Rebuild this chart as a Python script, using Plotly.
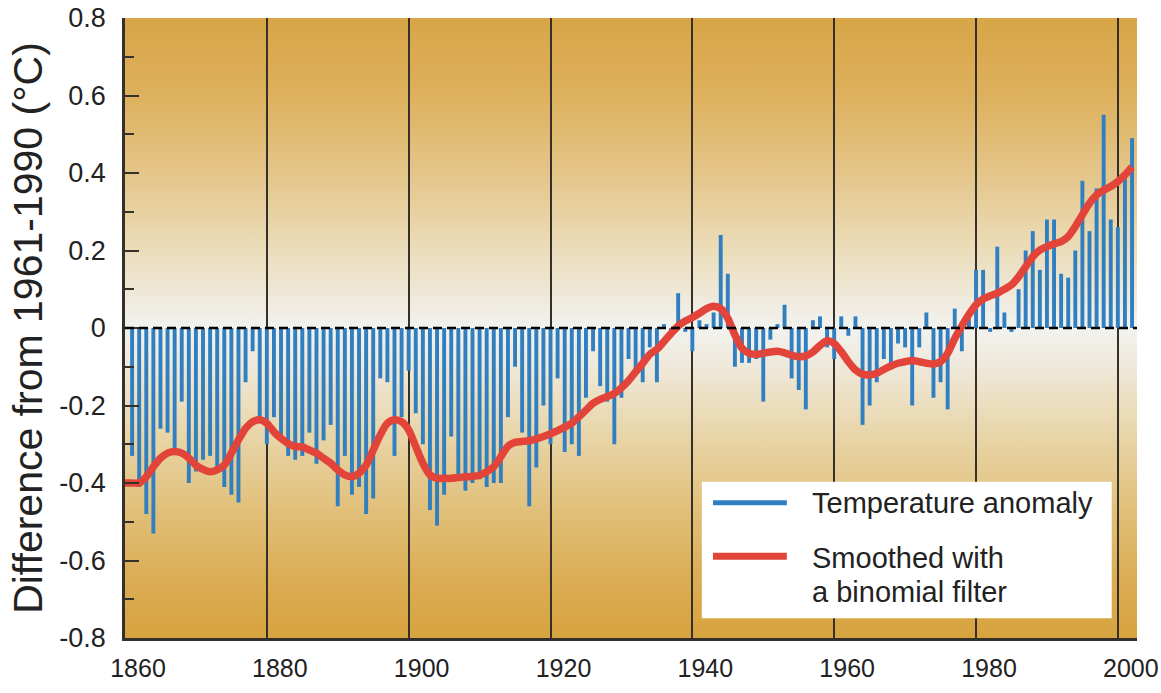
import base64
import plotly.graph_objects as go

# ---------------- data ----------------
years = list(range(1861, 2003))
anomaly = [
    -0.33, -0.41, -0.48, -0.53, -0.26, -0.27, -0.31, -0.19, -0.40, -0.37,   # 1861-1870
    -0.34, -0.33, -0.36, -0.41, -0.43, -0.45, -0.14, -0.06, -0.23, -0.30,   # 1871-1880
    -0.23, -0.29, -0.33, -0.34, -0.33, -0.27, -0.35, -0.29, -0.25, -0.46,   # 1881-1890
    -0.33, -0.43, -0.41, -0.48, -0.44, -0.13, -0.14, -0.33, -0.23, -0.11,   # 1891-1900
    -0.22, -0.30, -0.47, -0.51, -0.43, -0.28, -0.39, -0.42, -0.40, -0.39,   # 1901-1910
    -0.41, -0.40, -0.40, -0.23, -0.10, -0.27, -0.46, -0.36, -0.20, -0.30,   # 1911-1920
    -0.13, -0.32, -0.30, -0.33, -0.18, -0.06, -0.15, -0.19, -0.30, -0.18,   # 1921-1930
    -0.08, -0.11, -0.14, -0.05, -0.14, 0.01, -0.02, 0.09, -0.01, -0.06,     # 1931-1940
    0.02, 0.01, 0.04, 0.24, 0.14, -0.10, -0.09, -0.09, -0.08, -0.19,        # 1941-1950
    -0.03, 0.01, 0.06, -0.13, -0.16, -0.21, 0.02, 0.03, -0.05, -0.08,       # 1951-1960
    0.03, -0.02, 0.03, -0.25, -0.20, -0.14, -0.08, -0.10, -0.04, -0.05,     # 1961-1970
    -0.20, -0.05, 0.04, -0.18, -0.14, -0.21, 0.05, -0.06, 0.03, 0.15,       # 1971-1980
    0.15, -0.01, 0.21, 0.04, -0.01, 0.10, 0.20, 0.25, 0.15, 0.28,           # 1981-1990
    0.28, 0.14, 0.13, 0.20, 0.38, 0.25, 0.36, 0.55, 0.28, 0.26,             # 1991-2000
    0.40, 0.49,                                                             # 2001-2002
]

smooth_years = list(range(1860, 2003))
smoothed = [
    -0.400,                                                                  # 1860
    -0.400, -0.400, -0.384, -0.358, -0.336, -0.323, -0.319, -0.323, -0.336, -0.354,
    -0.365, -0.371, -0.366, -0.354, -0.323, -0.289, -0.259, -0.242, -0.237, -0.246,
    -0.268, -0.285, -0.298, -0.306, -0.307, -0.315, -0.323, -0.336, -0.349, -0.366,
    -0.379, -0.384, -0.375, -0.354, -0.315, -0.276, -0.246, -0.237, -0.242, -0.263,
    -0.306, -0.349, -0.379, -0.388, -0.388, -0.388, -0.386, -0.384, -0.383, -0.380,
    -0.371, -0.358, -0.332, -0.305, -0.295, -0.293, -0.291, -0.286, -0.280, -0.273,
    -0.265, -0.256, -0.246, -0.229, -0.212, -0.194, -0.184, -0.177, -0.169, -0.154,
    -0.136, -0.113, -0.091, -0.068, -0.055, -0.035, -0.014, 0.005, 0.018, 0.027,
    0.038, 0.050, 0.056, 0.050, 0.025, -0.018, -0.052, -0.065, -0.068, -0.065,
    -0.062, -0.060, -0.064, -0.070, -0.074, -0.072, -0.062, -0.045, -0.033, -0.040,
    -0.061, -0.087, -0.108, -0.119, -0.121, -0.117, -0.107, -0.098, -0.091, -0.087,
    -0.084, -0.087, -0.091, -0.093, -0.087, -0.065, -0.027, 0.005, 0.035, 0.060,
    0.075, 0.083, 0.090, 0.100, 0.111, 0.132, 0.158, 0.184, 0.201, 0.210,
    0.217, 0.223, 0.236, 0.262, 0.292, 0.322, 0.343, 0.356, 0.365, 0.378,
    0.395, 0.416,
]

x_tick_years = [1860, 1880, 1900, 1920, 1940, 1960, 1980, 2000]
x_tick_labels = ["1860", "1880", "1900", "1920", "1940", "1960", "1980", "2000"]
y_tick_values = [-0.8, -0.6, -0.4, -0.2, 0, 0.2, 0.4, 0.6, 0.8]
y_tick_labels = ["-0.8", "-0.6", "-0.4", "-0.2", "0", "0.2", "0.4", "0.6", "0.8"]
y_minor_values = [-0.7, -0.5, -0.3, -0.1, 0.1, 0.3, 0.5, 0.7]

legend_bar_label = "Temperature anomaly"
legend_line_label = ["Smoothed with", "a binomial filter"]
y_title = "Difference from 1961-1990 (°C)"

# ---------------- styling ----------------
BAR_COLOR = "#2f7fc1"
LINE_COLOR = "#e2443a"
DARK = "#35302a"
TEXT_FONT = "Liberation Sans, Arial, sans-serif"

# gold -> white -> gold vertical gradient for the plot background
stops = [
    (0.00, "#d8a547"), (0.12, "#ddb05c"), (0.25, "#e4c589"), (0.37, "#ebdcb8"),
    (0.46, "#f0ebdf"), (0.50, "#f2f2ef"), (0.56, "#efe9db"), (0.66, "#e9d7ae"),
    (0.78, "#e2c27e"), (0.90, "#dbad55"), (1.00, "#d7a33e"),
]
stop_xml = "".join(f'<stop offset="{o}" stop-color="{c}"/>' for o, c in stops)
svg = (
    '<svg xmlns="http://www.w3.org/2000/svg" width="10" height="100" '
    'viewBox="0 0 10 100" preserveAspectRatio="none"><defs>'
    '<linearGradient id="g" x1="0" y1="0" x2="0" y2="1">' + stop_xml +
    '</linearGradient></defs><rect x="0" y="0" width="10" height="100" fill="url(#g)"/></svg>'
)
bg_uri = "data:image/svg+xml;base64," + base64.b64encode(svg.encode()).decode()

fig = go.Figure()
fig.add_trace(go.Bar(
    x=years, y=anomaly, width=0.55, name=legend_bar_label,
    marker=dict(color=BAR_COLOR, line=dict(width=0)),
))
fig.add_trace(go.Scatter(
    x=smooth_years, y=smoothed, mode="lines", name=" ".join(legend_line_label),
    line=dict(color=LINE_COLOR, width=7.5, shape="spline", smoothing=0.8),
))

fig.update_layout(
    width=1161, height=693,
    margin=dict(l=125, r=24, t=18, b=55),
    paper_bgcolor="white",
    plot_bgcolor="rgba(0,0,0,0)",
    showlegend=False,
    images=[dict(
        source=bg_uri, xref="paper", yref="paper", x=0, y=1, sizex=1, sizey=1,
        xanchor="left", yanchor="top", sizing="stretch", layer="below",
    )],
    xaxis=dict(
        range=[1860, 2002.7], tickmode="array", tickvals=x_tick_years, ticktext=x_tick_labels,
        showgrid=True, gridcolor=DARK, gridwidth=2, zeroline=False, automargin=False,
        showline=True, linecolor=DARK, linewidth=2.5, ticks="",
        tickfont=dict(family=TEXT_FONT, size=25, color="#222"),
        ticklabelshift=13, ticklabelstandoff=6, ticklabeloverflow="allow",
    ),
    yaxis=dict(
        range=[-0.8, 0.8], tickmode="array", tickvals=y_tick_values, ticktext=y_tick_labels,
        showgrid=False, zeroline=False, showline=True, linecolor=DARK, linewidth=2.5,
        automargin=False, ticklabeloverflow="allow",
        ticks="inside", ticklen=14, tickwidth=2, tickcolor=DARK,
        minor=dict(tickmode="array", tickvals=y_minor_values, ticks="inside",
                   ticklen=9, tickwidth=2, tickcolor=DARK, showgrid=False),
        tickfont=dict(family=TEXT_FONT, size=27, color="#222"),
        ticklabelstandoff=11,
        title=dict(text=y_title, font=dict(family=TEXT_FONT, size=41, color="#222"), standoff=4),
    ),
    shapes=[
        # zero reference line
        dict(type="line", xref="paper", x0=0, x1=1, yref="y", y0=0, y1=0,
             line=dict(color="black", width=2.5, dash="9px,5px"), layer="above"),
        # legend box and samples
        dict(type="rect", xref="paper", yref="paper", x0=0.570, x1=0.975, y0=0.032, y1=0.252,
             fillcolor="white", line=dict(width=0), layer="above"),
        dict(type="line", xref="paper", yref="paper", x0=0.581, x1=0.654, y0=0.218, y1=0.218,
             line=dict(color=BAR_COLOR, width=5), layer="above"),
        dict(type="line", xref="paper", yref="paper", x0=0.581, x1=0.654, y0=0.132, y1=0.132,
             line=dict(color=LINE_COLOR, width=7), layer="above"),
    ],
    annotations=[
        dict(text=legend_bar_label, xref="paper", yref="paper", x=0.677, y=0.218,
             xanchor="left", yanchor="middle", showarrow=False,
             font=dict(family=TEXT_FONT, size=29, color="#222")),
        dict(text=legend_line_label[0], xref="paper", yref="paper", x=0.677, y=0.129,
             xanchor="left", yanchor="middle", showarrow=False,
             font=dict(family=TEXT_FONT, size=29, color="#222")),
        dict(text=legend_line_label[1], xref="paper", yref="paper", x=0.677, y=0.074,
             xanchor="left", yanchor="middle", showarrow=False,
             font=dict(family=TEXT_FONT, size=29, color="#222")),
    ],
)

# remove the browser's default 8px page margin so the figure fills the window exactly
fig.write_html(
    "out.html",
    config={"displayModeBar": False},
    post_script="document.body.style.margin='0';",
)
